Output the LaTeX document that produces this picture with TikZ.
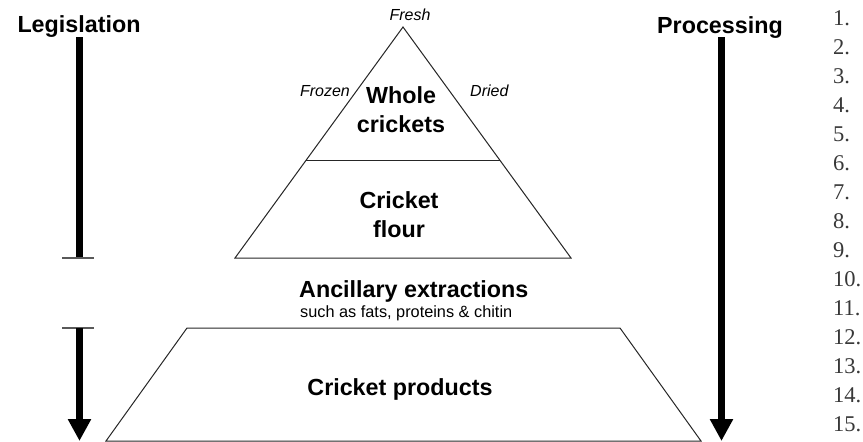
\documentclass[tikz,border=0pt]{standalone}
\usepackage{fontspec}
\setsansfont{Liberation Sans}
\newfontfamily\numfont{Liberation Serif}
\usetikzlibrary{arrows.meta}

\begin{document}
\begin{tikzpicture}[x=1pt, y=-1pt, >={Triangle[width=22pt,length=22pt]},
    head/.style={font=\sffamily\bfseries\fontsize{23.3}{29}\selectfont, align=center, inner sep=0pt},
    side/.style={font=\sffamily\itshape\fontsize{16}{19}\selectfont, inner sep=0pt},
    small/.style={font=\sffamily\fontsize{16.3}{19}\selectfont, inner sep=0pt},
    edge/.style={black!85, line width=1pt},
    bar/.style={line width=7pt},
    tickline/.style={black!65, line width=1.5pt},
    lineno/.style={font=\numfont\fontsize{22.5}{26}\selectfont, text=black!78, inner sep=0pt, anchor=base west}]
    \useasboundingbox (0,0) rectangle (863,442);

    % pyramid and base
    \draw[edge] (403,27) -- (571,258) -- (235,258) -- cycle;
    \draw[edge] (306,160) -- (500,160);
    \draw[edge] (187,328) -- (620,328) -- (701,441) -- (106,441) -- cycle;

    \node[head, anchor=base] (leg) at (79,32) {Legislation};
    \node[head, anchor=base] (proc) at (720,33) {Processing};
    \node[side, anchor=base] (fresh) at (410,20) {Fresh};
    \node[side, anchor=base east] (frozen) at (350,96) {Frozen};
    \node[side, anchor=base west] (dried) at (470,96) {Dried};
    \node[head] (whole) at (401,110) {Whole\\crickets};
    \node[head] (flour) at (399,215) {Cricket\\flour};
    \node[head, anchor=base west] (ancil) at (299,297) {Ancillary extractions};
    \node[small, anchor=base west] (such) at (300,317) {such as fats, proteins \& chitin};
    \node[head, anchor=base] (prod) at (400,395) {Cricket products};

    % legislation arrow, broken at the extractions
    \coordinate (lega) at (79.5,37);
    \coordinate (legb) at (79.5,258);
    \coordinate (legc) at (79.5,328);
    \coordinate (legd) at (79.5,441);
    \draw[bar] (lega) -- (legb);
    \draw[tickline] ([xshift=-17.5pt]legb) -- ([xshift=14.5pt]legb);
    \draw[tickline] ([xshift=-17.5pt]legc) -- ([xshift=14.5pt]legc);
    \draw[bar, ->] (legc) -- (legd);

    % processing arrow
    \coordinate (proca) at (721.5,37);
    \coordinate (procb) at (721.5,441);
    \draw[bar, ->] (proca) -- (procb);

    % line numbers
    \foreach \n in {1,...,15}
      \node[lineno] (num\n) at (833,{25+(\n-1)*29.05}) {\n.};
\end{tikzpicture}
\end{document}
